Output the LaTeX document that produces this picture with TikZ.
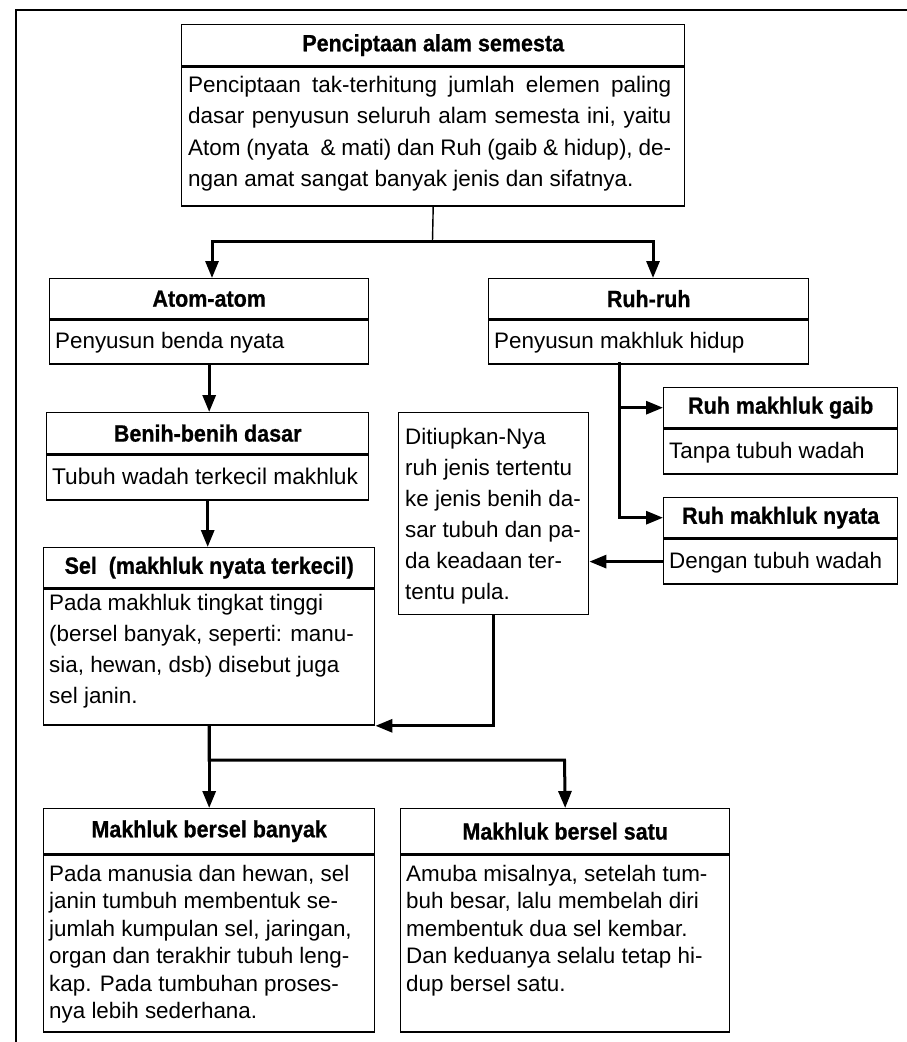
\documentclass[tikz,border=0pt]{standalone}
\usepackage{fontspec}
\setmainfont{Liberation Sans}
\newfontfamily\headfont[FakeStretch=0.915,FakeBold=0.8]{Liberation Sans Bold}
\usetikzlibrary{arrows.meta}

\tikzset{
  boxline/.style={draw, line width=1.4pt},
  head/.style={boxline, anchor=north west, inner sep=0pt,
    font=\headfont\fontsize{23.5}{28}\selectfont},
  bodybox/.style={boxline, anchor=north west, inner sep=0pt},
  txt/.style={anchor=north west, inner sep=0pt, align=left},
  plain/.style={line width=3pt, line join=miter},
  tip/.tip={Triangle[length=17pt,width=13pt]},
  link/.style={plain, -tip},
  twolink/.style={plain, tip-tip},
}
\newcommand{\bodyA}{\fontsize{22.4}{31}\selectfont}
\newcommand{\bodyT}{\fontsize{22.5}{31.5}\selectfont}
\newcommand{\bodyB}{\fontsize{22.4}{27.5}\selectfont}
\newcommand{\st}{\rule{0pt}{21pt}}
\newcommand{\jline}[1]{\makebox[483pt][s]{#1}}

\begin{document}
\begin{tikzpicture}[x=1pt,y=-1pt]
\useasboundingbox (0,0) rectangle (907,1042);

% outer frame
\draw[line width=1.5pt] (16,1042) -- (16,10) -- (907,10);

% top box
\node[head, minimum width=503pt, minimum height=41pt] (top-t) at (181,24) {Penciptaan alam semesta};
\node[bodybox, minimum width=503pt, minimum height=139pt] (top) at (top-t.south west) {};
\node[txt, font=\bodyT] (top-x) at (188,71) {\st\jline{Penciptaan tak-terhitung jumlah elemen paling}\\
\jline{dasar penyusun seluruh alam semesta ini, yaitu}\\
\jline{Atom (nyata\ \ \& mati) dan Ruh (gaib \& hidup), de-}\\
ngan amat sangat banyak jenis dan sifatnya.};

% atoms
\node[head, minimum width=319pt, minimum height=40pt] (atom-t) at (49,278) {Atom-atom};
\node[bodybox, minimum width=319pt, minimum height=44pt] (atom) at (atom-t.south west) {};
\node[txt, font=\bodyA] (atom-x) at (55,327) {\st Penyusun benda nyata};

% spirits
\node[head, minimum width=320pt, minimum height=40pt] (ruh-t) at (488,278) {Ruh-ruh};
\node[bodybox, minimum width=320pt, minimum height=44pt] (ruh) at (ruh-t.south west) {};
\node[txt, font=\bodyA] (ruh-x) at (494,327) {\st Penyusun makhluk hidup};

% basic seeds
\node[head, minimum width=322pt, minimum height=41pt] (benih-t) at (46,412) {Benih-benih dasar};
\node[bodybox, minimum width=322pt, minimum height=45pt] (benih) at (benih-t.south west) {};
\node[txt, font=\fontsize{22.7}{31}\selectfont] (benih-x) at (52,463) {\st Tubuh wadah terkecil makhluk};

% cell
\node[head, minimum width=331pt, minimum height=40pt] (sel-t) at (43,547) {Sel\ \ (makhluk nyata terkecil)};
\node[bodybox, minimum width=331pt, minimum height=136pt] (sel) at (sel-t.south west) {};
\node[txt, font=\bodyA] (sel-x) at (49,589) {\st Pada makhluk tingkat tinggi\\
(bersel banyak, seperti: manu-\\
sia, hewan, dsb) disebut juga\\
sel janin.};

% unseen spirits
\node[head, minimum width=234pt, minimum height=40pt] (gaib-t) at (663,387) {Ruh makhluk gaib};
\node[bodybox, minimum width=234pt, minimum height=45pt] (gaib) at (gaib-t.south west) {};
\node[txt, font=\bodyA] (gaib-x) at (669,437) {\st Tanpa tubuh wadah};

% embodied spirits
\node[head, minimum width=234pt, minimum height=40pt] (nyata-t) at (663,497) {Ruh makhluk nyata};
\node[bodybox, minimum width=234pt, minimum height=45pt] (nyata) at (nyata-t.south west) {};
\node[txt, font=\bodyA] (nyata-x) at (669,547) {\st Dengan tubuh wadah};

% breathing in
\node[bodybox, minimum width=190pt, minimum height=202pt] (diti) at (398,412) {};
\node[txt, font=\bodyA] (diti-x) at (405,423) {\st Ditiupkan-Nya\\
ruh jenis tertentu\\
ke jenis benih da-\\
sar tubuh dan pa-\\
da keadaan ter-\\
tentu pula.};

% multicellular
\node[head, minimum width=331pt, minimum height=45pt] (banyak-t) at (43,808) {Makhluk bersel banyak};
\node[bodybox, minimum width=331pt, minimum height=177pt] (banyak) at (banyak-t.south west) {};
\node[txt, font=\bodyB] (banyak-x) at (49,860) {\st Pada manusia dan hewan, sel\\
janin tumbuh membentuk se-\\
jumlah kumpulan sel, jaringan,\\
organ dan terakhir tubuh leng-\\
kap. Pada tumbuhan proses-\\
nya lebih sederhana.};

% unicellular
\node[head, minimum width=329pt, minimum height=45pt] (satu-t) at (400,808) {Makhluk bersel satu};
\node[bodybox, minimum width=329pt, minimum height=177pt] (satu) at (satu-t.south west) {};
\node[txt, font=\bodyB] (satu-x) at (406,860) {\st Amuba misalnya, setelah tum-\\
buh besar, lalu membelah diri\\
membentuk dua sel kembar.\\
Dan keduanya selalu tetap hi-\\
dup bersel satu.};

% connectors
\coordinate (f1) at (432.5,241);
\coordinate (f1L) at (212,241);
\coordinate (f1R) at (653,241);
\draw[line width=1.4pt] (top.south) -- (f1);
\draw[twolink] (f1L |- atom-t.north) -- (f1L) -- (f1R) -- (f1R |- ruh-t.north);

\draw[link] (atom.south) -- (atom.south |- benih-t.north);
\draw[link] (benih.south) -- (benih.south |- sel-t.north);

\coordinate (rd) at (619,362);
\draw[link] (rd) |- (gaib-t.west);
\draw[link] (rd) |- (nyata-t.west);

\draw[link] (nyata.west) -- (nyata.west -| diti.east);
\draw[link] (diti.south) |- (sel.south east);

\coordinate (f2) at (564.5,760);
\draw[link] (sel.south) -- (banyak-t.north);
\draw[link] (sel.south) |- (f2) -- (satu-t.north);
\end{tikzpicture}
\end{document}
